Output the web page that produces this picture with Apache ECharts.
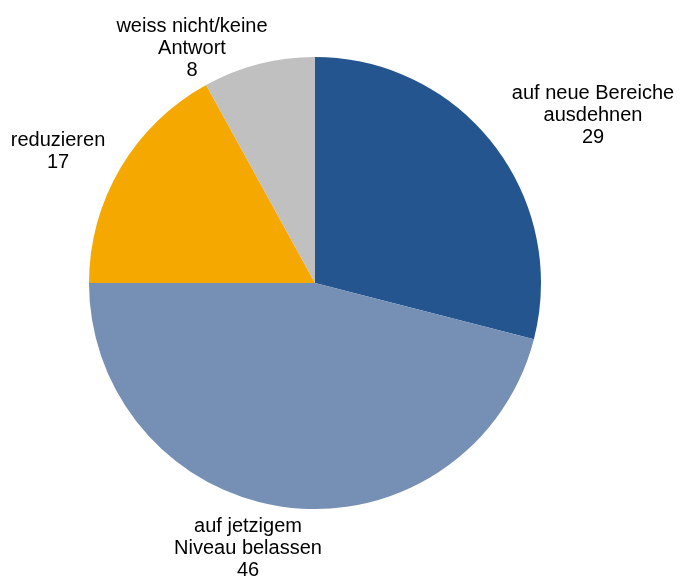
<!DOCTYPE html>
<html>
<head>
<meta charset="utf-8">
<script src="https://cdn.jsdelivr.net/npm/echarts@6/dist/echarts.min.js"></script>
<style>
  html, body { margin: 0; padding: 0; background: #fff; }
  #chart { width: 680px; height: 578px; }
</style>
</head>
<body>
<div id="chart"></div>
<script>
// Answer categories (clockwise from 12 o'clock) and their shares
const categories = [
  'auf neue Bereiche\nausdehnen',
  'auf jetzigem\nNiveau belassen',
  'reduzieren',
  'weiss nicht/keine\nAntwort'
];
const values = [29, 46, 17, 8];
const colors = ['#24558f', '#768fb4', '#f5a800', '#c0c0c0'];

// Label anchor points (centre of each text block)
const labelAnchors = [[593, 115], [248, 548], [58, 151], [192, 48]];

const chart = echarts.init(document.getElementById('chart'), null, { renderer: 'canvas' });

chart.setOption({
  animation: false,
  backgroundColor: '#ffffff',
  series: [{
    type: 'pie',
    center: [315, 283],
    radius: [0, 226],
    startAngle: 90,
    clockwise: true,
    avoidLabelOverlap: false,
    data: categories.map((name, i) => ({
      name: name,
      value: values[i],
      itemStyle: { color: colors[i] }
    })),
    itemStyle: { borderWidth: 0 },
    label: {
      show: true,
      position: 'outside',
      formatter: '{b}\n{c}',
      fontFamily: 'Liberation Sans, Arial, sans-serif',
      fontSize: 20,
      lineHeight: 22,
      color: '#000',
      align: 'center'
    },
    labelLine: { show: false },
    labelLayout: function (params) {
      const p = labelAnchors[params.dataIndex];
      return { x: p[0], y: p[1], align: 'center', verticalAlign: 'middle' };
    },
    emphasis: { disabled: true }
  }]
});
</script>
</body>
</html>
